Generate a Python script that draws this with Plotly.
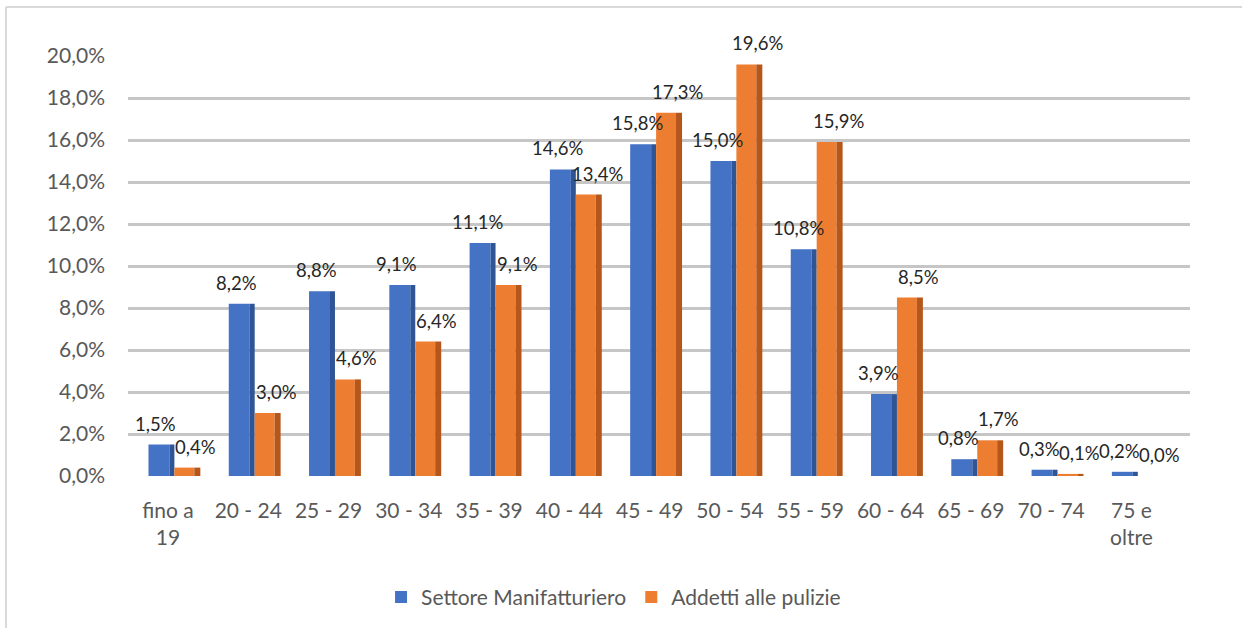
import plotly.graph_objects as go

categories = ["fino a<br>19", "20 - 24", "25 - 29", "30 - 34", "35 - 39", "40 - 44",
              "45 - 49", "50 - 54", "55 - 59", "60 - 64", "65 - 69", "70 - 74", "75 e<br>oltre"]
manifatturiero = [0.015, 0.082, 0.088, 0.091, 0.111, 0.146, 0.158, 0.150, 0.108, 0.039, 0.008, 0.003, 0.002]
pulizie = [0.004, 0.030, 0.046, 0.064, 0.091, 0.134, 0.173, 0.196, 0.159, 0.085, 0.017, 0.001, 0.000]
series_names = ["Settore Manifatturiero", "Addetti alle pulizie"]
y_ticks = [0, 0.02, 0.04, 0.06, 0.08, 0.10, 0.12, 0.14, 0.16, 0.18, 0.20]

FONT = "Lato, Calibri, Carlito, sans-serif"
BLUE, BLUE_SIDE = "#4472C4", "#2F5597"
ORANGE, ORANGE_SIDE = "#ED7D31", "#B5561A"

fig = go.Figure()
# (name, values, colour, offset, width, legend)
specs = [
    (series_names[0], manifatturiero, BLUE, -0.243, 0.261, True),
    (series_names[0], manifatturiero, BLUE_SIDE, 0.018, 0.062, False),
    (series_names[1], pulizie, ORANGE, 0.08, 0.248, True),
    (series_names[1], pulizie, ORANGE_SIDE, 0.328, 0.075, False),
]
for name, vals, col, off, w, leg in specs:
    fig.add_trace(go.Bar(
        x=categories, y=vals, name=name, showlegend=leg, legendgroup=name,
        offset=off, width=w,
        marker=dict(color=col, line=dict(width=0)),
        hovertemplate="%{x}: %{y:.1%}<extra>" + name + "</extra>",
    ))

annotations = []
for vals, shift in [(manifatturiero, -12), (pulizie, 28)]:
    for c, v in zip(categories, vals):
        annotations.append(dict(
            x=c, y=v, xref="x", yref="y", text=f"{v*100:.1f}%".replace(".", ","),
            showarrow=False, xanchor="center", yanchor="bottom",
            xshift=shift, yshift=8,
            font=dict(size=18.5, color="#262626", family=FONT),
        ))

fig.update_layout(
    width=1242, height=628,
    separators=",.",
    paper_bgcolor="white", plot_bgcolor="white",
    font=dict(family=FONT, color="#595959", size=21),
    margin=dict(l=128, r=52, t=56, b=152, autoexpand=False),
    barmode="overlay",
    showlegend=True,
    legend=dict(orientation="h", xref="container", x=0.494, xanchor="center",
                yref="container", y=0.049, yanchor="middle",
                font=dict(size=21, color="#595959", family=FONT),
                itemwidth=30, traceorder="normal"),
    xaxis=dict(range=[-0.498, 12.73], showgrid=False, showline=False, ticks="",
               ticklabelstandoff=20, tickfont=dict(size=21, color="#595959")),
    yaxis=dict(range=[0, 0.2], tickvals=y_ticks, tickformat=".1%",
               showgrid=True, gridcolor="#c6c6c6", gridwidth=3,
               zeroline=False, showline=False, ticklabelstandoff=22,
               tickfont=dict(size=21, color="#595959")),
    annotations=annotations,
    shapes=[
        dict(type="line", xref="paper", yref="paper", x0=-0.1149, x1=1.06,
             y0=1.1167, y1=1.1167, line=dict(color="#d9d9d9", width=2)),
        dict(type="line", xref="paper", yref="paper", x0=-0.1149, x1=-0.1149,
             y0=1.1167, y1=-0.4, line=dict(color="#d9d9d9", width=2)),
    ],
)
fig.write_html("out.html", config={"displayModeBar": False},
               post_script="document.body.style.margin='0';document.body.style.overflow='hidden';")
